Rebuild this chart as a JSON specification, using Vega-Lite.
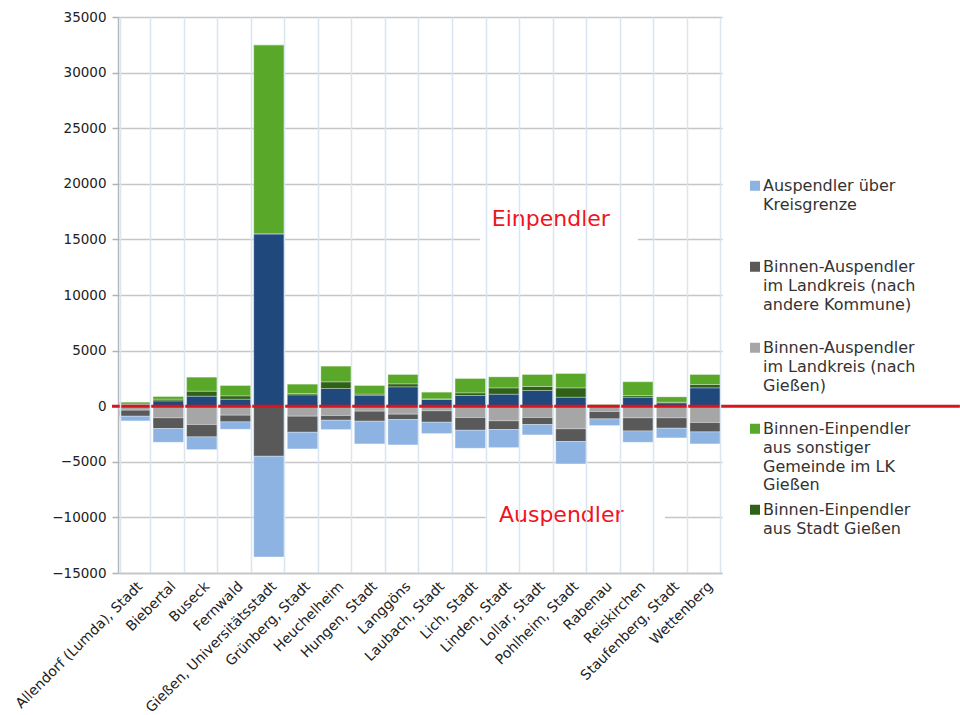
{
  "$schema": "https://vega.github.io/schema/vega-lite/v6.json",
  "autosize": {"type": "none"},
  "padding": {"left": 118, "top": 17, "right": 238, "bottom": 142},
  "width": 604,
  "height": 556,
  "background": "white",
  "config": {
    "font": "DejaVu Sans",
    "view": {"stroke": null},
    "style": {"guide-label": {"lineHeight": 18.8}}
  },
  "datasets": {
    "pendler": [
      {"gemeinde": "Allendorf (Lumda), Stadt", "Einpendler über Kreisgrenze": 150, "Binnen-Einpendler aus Stadt Gießen": 40, "Binnen-Einpendler aus sonstiger Gemeinde im LK Gießen": 170, "Binnen-Auspendler im Landkreis (nach Gießen)": -360, "Binnen-Auspendler im Landkreis (nach andere Kommune)": -540, "Auspendler über Kreisgrenze": -420},
      {"gemeinde": "Biebertal", "Einpendler über Kreisgrenze": 480, "Binnen-Einpendler aus Stadt Gießen": 150, "Binnen-Einpendler aus sonstiger Gemeinde im LK Gießen": 240, "Binnen-Auspendler im Landkreis (nach Gießen)": -1050, "Binnen-Auspendler im Landkreis (nach andere Kommune)": -960, "Auspendler über Kreisgrenze": -1230},
      {"gemeinde": "Buseck", "Einpendler über Kreisgrenze": 900, "Binnen-Einpendler aus Stadt Gießen": 450, "Binnen-Einpendler aus sonstiger Gemeinde im LK Gießen": 1260, "Binnen-Auspendler im Landkreis (nach Gießen)": -1650, "Binnen-Auspendler im Landkreis (nach andere Kommune)": -1110, "Auspendler über Kreisgrenze": -1140},
      {"gemeinde": "Fernwald", "Einpendler über Kreisgrenze": 630, "Binnen-Einpendler aus Stadt Gießen": 300, "Binnen-Einpendler aus sonstiger Gemeinde im LK Gießen": 930, "Binnen-Auspendler im Landkreis (nach Gießen)": -810, "Binnen-Auspendler im Landkreis (nach andere Kommune)": -600, "Auspendler über Kreisgrenze": -660},
      {"gemeinde": "Gießen, Universitätsstadt", "Einpendler über Kreisgrenze": 15500, "Binnen-Einpendler aus Stadt Gießen": 0, "Binnen-Einpendler aus sonstiger Gemeinde im LK Gießen": 17000, "Binnen-Auspendler im Landkreis (nach Gießen)": 0, "Binnen-Auspendler im Landkreis (nach andere Kommune)": -4500, "Auspendler über Kreisgrenze": -9050},
      {"gemeinde": "Grünberg, Stadt", "Einpendler über Kreisgrenze": 1020, "Binnen-Einpendler aus Stadt Gießen": 120, "Binnen-Einpendler aus sonstiger Gemeinde im LK Gießen": 840, "Binnen-Auspendler im Landkreis (nach Gießen)": -900, "Binnen-Auspendler im Landkreis (nach andere Kommune)": -1440, "Auspendler über Kreisgrenze": -1500},
      {"gemeinde": "Heuchelheim", "Einpendler über Kreisgrenze": 1590, "Binnen-Einpendler aus Stadt Gießen": 600, "Binnen-Einpendler aus sonstiger Gemeinde im LK Gießen": 1410, "Binnen-Auspendler im Landkreis (nach Gießen)": -840, "Binnen-Auspendler im Landkreis (nach andere Kommune)": -420, "Auspendler über Kreisgrenze": -840},
      {"gemeinde": "Hungen, Stadt", "Einpendler über Kreisgrenze": 990, "Binnen-Einpendler aus Stadt Gießen": 100, "Binnen-Einpendler aus sonstiger Gemeinde im LK Gießen": 770, "Binnen-Auspendler im Landkreis (nach Gießen)": -450, "Binnen-Auspendler im Landkreis (nach andere Kommune)": -900, "Auspendler über Kreisgrenze": -2040},
      {"gemeinde": "Langgöns", "Einpendler über Kreisgrenze": 1740, "Binnen-Einpendler aus Stadt Gießen": 270, "Binnen-Einpendler aus sonstiger Gemeinde im LK Gießen": 840, "Binnen-Auspendler im Landkreis (nach Gießen)": -720, "Binnen-Auspendler im Landkreis (nach andere Kommune)": -480, "Auspendler über Kreisgrenze": -2280},
      {"gemeinde": "Laubach, Stadt", "Einpendler über Kreisgrenze": 600, "Binnen-Einpendler aus Stadt Gießen": 60, "Binnen-Einpendler aus sonstiger Gemeinde im LK Gießen": 600, "Binnen-Auspendler im Landkreis (nach Gießen)": -420, "Binnen-Auspendler im Landkreis (nach andere Kommune)": -1020, "Auspendler über Kreisgrenze": -1020},
      {"gemeinde": "Lich, Stadt", "Einpendler über Kreisgrenze": 960, "Binnen-Einpendler aus Stadt Gießen": 240, "Binnen-Einpendler aus sonstiger Gemeinde im LK Gießen": 1290, "Binnen-Auspendler im Landkreis (nach Gießen)": -1020, "Binnen-Auspendler im Landkreis (nach andere Kommune)": -1140, "Auspendler über Kreisgrenze": -1620},
      {"gemeinde": "Linden, Stadt", "Einpendler über Kreisgrenze": 1080, "Binnen-Einpendler aus Stadt Gießen": 570, "Binnen-Einpendler aus sonstiger Gemeinde im LK Gießen": 990, "Binnen-Auspendler im Landkreis (nach Gießen)": -1320, "Binnen-Auspendler im Landkreis (nach andere Kommune)": -780, "Auspendler über Kreisgrenze": -1620},
      {"gemeinde": "Lollar, Stadt", "Einpendler über Kreisgrenze": 1410, "Binnen-Einpendler aus Stadt Gießen": 360, "Binnen-Einpendler aus sonstiger Gemeinde im LK Gießen": 1080, "Binnen-Auspendler im Landkreis (nach Gießen)": -1020, "Binnen-Auspendler im Landkreis (nach andere Kommune)": -630, "Auspendler über Kreisgrenze": -930},
      {"gemeinde": "Pohlheim, Stadt", "Einpendler über Kreisgrenze": 810, "Binnen-Einpendler aus Stadt Gießen": 840, "Binnen-Einpendler aus sonstiger Gemeinde im LK Gießen": 1290, "Binnen-Auspendler im Landkreis (nach Gießen)": -2040, "Binnen-Auspendler im Landkreis (nach andere Kommune)": -1140, "Auspendler über Kreisgrenze": -2010},
      {"gemeinde": "Rabenau", "Einpendler über Kreisgrenze": 100, "Binnen-Einpendler aus Stadt Gießen": 20, "Binnen-Einpendler aus sonstiger Gemeinde im LK Gießen": 40, "Binnen-Auspendler im Landkreis (nach Gießen)": -480, "Binnen-Auspendler im Landkreis (nach andere Kommune)": -660, "Auspendler über Kreisgrenze": -600},
      {"gemeinde": "Reiskirchen", "Einpendler über Kreisgrenze": 810, "Binnen-Einpendler aus Stadt Gießen": 150, "Binnen-Einpendler aus sonstiger Gemeinde im LK Gießen": 1230, "Binnen-Auspendler im Landkreis (nach Gießen)": -1050, "Binnen-Auspendler im Landkreis (nach andere Kommune)": -1170, "Auspendler über Kreisgrenze": -1020},
      {"gemeinde": "Staufenberg, Stadt", "Einpendler über Kreisgrenze": 300, "Binnen-Einpendler aus Stadt Gießen": 60, "Binnen-Einpendler aus sonstiger Gemeinde im LK Gießen": 480, "Binnen-Auspendler im Landkreis (nach Gießen)": -1050, "Binnen-Auspendler im Landkreis (nach andere Kommune)": -930, "Auspendler über Kreisgrenze": -870},
      {"gemeinde": "Wettenberg", "Einpendler über Kreisgrenze": 1650, "Binnen-Einpendler aus Stadt Gießen": 300, "Binnen-Einpendler aus sonstiger Gemeinde im LK Gießen": 900, "Binnen-Auspendler im Landkreis (nach Gießen)": -1470, "Binnen-Auspendler im Landkreis (nach andere Kommune)": -840, "Auspendler über Kreisgrenze": -1080}
    ],
    "boxen": [
      {"von": "Lich, Stadt", "bis": "Reiskirchen", "oben": 18700, "unten": 13300}
    ],
    "boxen2": [
      {"von": "Lich, Stadt", "bis": "Staufenberg, Stadt", "oben": -7850, "unten": -10900}
    ],
    "texte": [
      {"gemeinde": "Lollar, Stadt", "wert": 16820, "text": "Einpendler"}
    ],
    "texte2": [
      {"gemeinde": "Pohlheim, Stadt", "wert": -9800, "text": "Auspendler"}
    ],
    "nulllinie": [
      {"von": "Allendorf (Lumda), Stadt", "bis": "Wettenberg", "wert": 0}
    ]
  },
  "encoding": {
    "x": {
      "field": "gemeinde", "type": "nominal", "sort": null, "title": null,
      "scale": {
        "domain": ["Allendorf (Lumda), Stadt", "Biebertal", "Buseck", "Fernwald", "Gießen, Universitätsstadt", "Grünberg, Stadt", "Heuchelheim", "Hungen, Stadt", "Langgöns", "Laubach, Stadt", "Lich, Stadt", "Linden, Stadt", "Lollar, Stadt", "Pohlheim, Stadt", "Rabenau", "Reiskirchen", "Staufenberg, Stadt", "Wettenberg"],
        "paddingInner": 0.09, "paddingOuter": 0.045
      },
      "axis": {
        "labelAngle": -45, "labelFontSize": 14, "labelColor": "#222", "labelPadding": 6,
        "ticks": false, "tickBand": "extent", "grid": true, "gridColor": "#dae5f2", "gridWidth": 1.5,
        "domainColor": "#c4c4c4", "domainWidth": 1.5, "labelLimit": 300
      }
    }
  },
  "layer": [
    {
      "data": {"name": "boxen"},
      "mark": {"type": "rect", "color": "white"},
      "encoding": {
        "x": {"field": "von", "type": "nominal", "bandPosition": 0.815},
        "x2": {"field": "bis", "bandPosition": 0.49},
        "y": {"field": "oben", "type": "quantitative"},
        "y2": {"field": "unten"}
      }
    },
    {
      "data": {"name": "boxen2"},
      "mark": {"type": "rect", "color": "white"},
      "encoding": {
        "x": {"field": "von", "type": "nominal", "bandPosition": 1.0},
        "x2": {"field": "bis", "bandPosition": 0.28},
        "y": {"field": "oben", "type": "quantitative"},
        "y2": {"field": "unten"}
      }
    },
    {
      "data": {"name": "pendler"},
      "transform": [
        {"fold": ["Einpendler über Kreisgrenze", "Binnen-Einpendler aus Stadt Gießen", "Binnen-Einpendler aus sonstiger Gemeinde im LK Gießen", "Binnen-Auspendler im Landkreis (nach Gießen)", "Binnen-Auspendler im Landkreis (nach andere Kommune)", "Auspendler über Kreisgrenze"], "as": ["typ", "wert"]}
      ],
      "mark": {"type": "bar", "stroke": "white", "strokeOpacity": 0.3, "strokeWidth": 1},
      "encoding": {
        "y": {
          "field": "wert", "type": "quantitative", "title": null, "stack": "zero",
          "scale": {"domain": [-15000, 35000], "nice": false, "zero": false},
          "axis": {
            "values": [-15000, -10000, -5000, 0, 5000, 10000, 15000, 20000, 25000, 30000, 35000],
            "format": "d",
            "labelFontSize": 13.5, "labelColor": "#222", "labelPadding": 6,
            "tickSize": 6, "tickColor": "#b0b0b0", "tickWidth": 1.5,
            "gridColor": "#c6c6c6", "gridWidth": 1.5,
            "domainColor": "#b8b8b8", "domainWidth": 1.5
          }
        },
        "order": {"field": "gemeinde"},
        "color": {
          "field": "typ", "type": "nominal",
          "scale": {
            "domain": ["Auspendler über Kreisgrenze", "Binnen-Auspendler im Landkreis (nach andere Kommune)", "Binnen-Auspendler im Landkreis (nach Gießen)", "Binnen-Einpendler aus sonstiger Gemeinde im LK Gießen", "Binnen-Einpendler aus Stadt Gießen", "Einpendler über Kreisgrenze"],
            "range": ["#8db3e2", "#595959", "#a6a6a6", "#5aa82a", "#2f6218", "#1f487c"]
          },
          "legend": {
            "title": null,
            "values": ["Auspendler über Kreisgrenze", "Binnen-Auspendler im Landkreis (nach andere Kommune)", "Binnen-Auspendler im Landkreis (nach Gießen)", "Binnen-Einpendler aus sonstiger Gemeinde im LK Gießen", "Binnen-Einpendler aus Stadt Gießen"],
            "orient": "none", "legendX": 629, "legendY": 153, "padding": 0,
            "symbolType": "M-1,0.55H1V2.55H-1Z", "symbolSize": 100, "symbolStrokeWidth": 0,
            "labelFontSize": 16, "labelColor": "#333", "labelLimit": 300, "labelOffset": 0,
            "labelBaseline": "top", "rowPadding": 0,
            "labelExpr": "datum.label == 'Auspendler über Kreisgrenze' ? ['Auspendler über', 'Kreisgrenze', ' ', ' '] : datum.label == 'Binnen-Auspendler im Landkreis (nach andere Kommune)' ? ['Binnen-Auspendler', 'im Landkreis (nach', 'andere Kommune)', ' '] : datum.label == 'Binnen-Auspendler im Landkreis (nach Gießen)' ? ['Binnen-Auspendler', 'im Landkreis (nach', 'Gießen)', ' '] : datum.label == 'Binnen-Einpendler aus sonstiger Gemeinde im LK Gießen' ? ['Binnen-Einpendler', 'aus sonstiger', 'Gemeinde im LK', 'Gießen'] : ['Binnen-Einpendler', 'aus Stadt Gießen', ' ', ' ']"
          }
        }
      }
    },
    {
      "data": {"name": "texte"},
      "mark": {"type": "text", "color": "#f0141e", "fontSize": 22, "align": "center", "baseline": "middle"},
      "encoding": {
        "x": {"field": "gemeinde", "type": "nominal", "bandPosition": 0.94},
        "y": {"field": "wert", "type": "quantitative"},
        "text": {"field": "text"}
      }
    },
    {
      "data": {"name": "texte2"},
      "mark": {"type": "text", "color": "#f0141e", "fontSize": 22, "align": "center", "baseline": "middle"},
      "encoding": {
        "x": {"field": "gemeinde", "type": "nominal", "bandPosition": 0.18},
        "y": {"field": "wert", "type": "quantitative"},
        "text": {"field": "text"}
      }
    },
    {
      "data": {"name": "nulllinie"},
      "mark": {"type": "rule", "color": "#d8141e", "strokeWidth": 3},
      "encoding": {
        "x": {"field": "von", "type": "nominal", "bandPosition": -0.245},
        "x2": {"field": "bis", "bandPosition": 8.84},
        "y": {"field": "wert", "type": "quantitative"}
      }
    }
  ]
}
